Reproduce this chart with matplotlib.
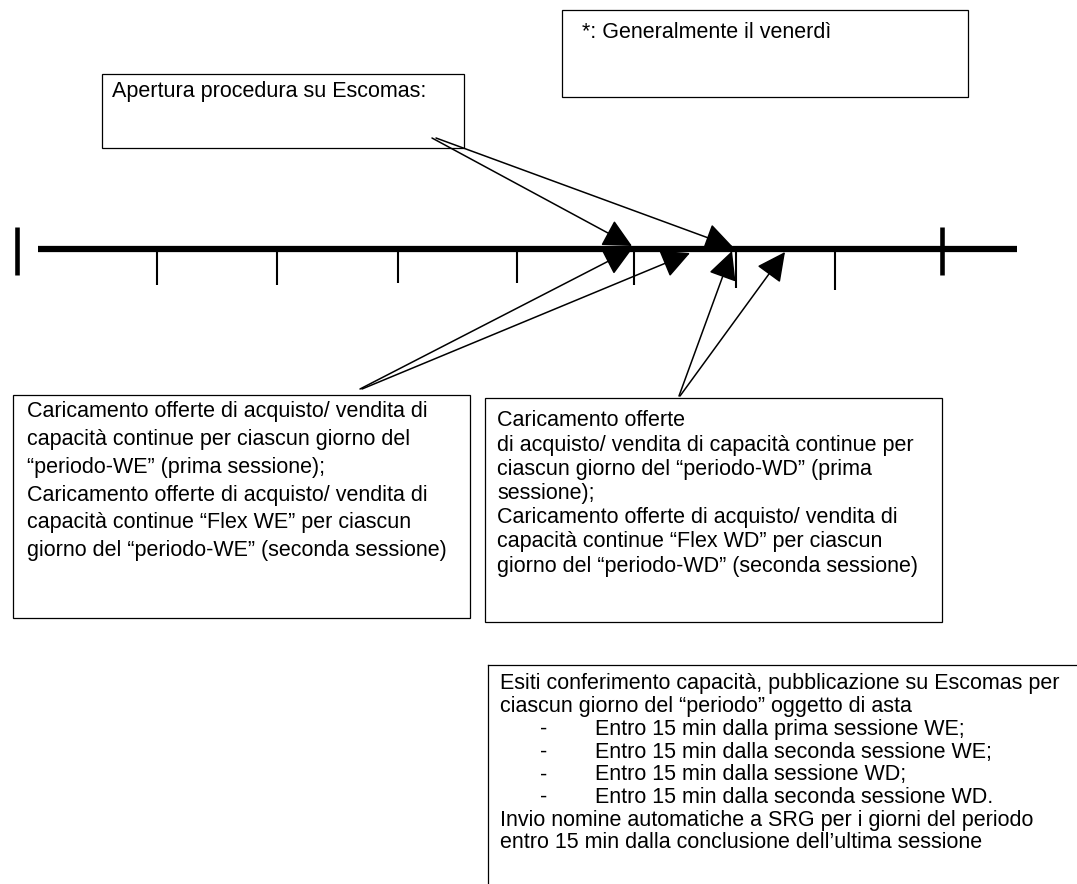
import matplotlib
matplotlib.use("Agg")
import matplotlib.pyplot as plt
from matplotlib.patches import Rectangle, FancyArrowPatch

plt.rcParams['font.family'] = ['Liberation Sans', 'DejaVu Sans']

# timeline
line_y = 249
line_x = [38, 1017]
end_bars = [17, 942]
ticks_x = [157, 277, 398, 517, 634, 736, 835]
ticks_bottom = [285, 285, 283, 283, 285, 288, 290]

# arrows: (start, tip)
arrows_top = [((432, 138), (632, 246)), ((436, 138), (733, 247))]
arrows_we = [((360, 389), (632, 249)), ((362, 389), (690, 253))]
arrows_wd = [((679, 396), (732, 251)), ((680, 396), (785, 252))]

box_apertura = "Apertura procedura su Escomas:"
box_note = "*: Generalmente il venerdì"
lines_we = [
    "Caricamento offerte di acquisto/ vendita di",
    "capacità continue per ciascun giorno del",
    "“periodo-WE” (prima sessione);",
    "Caricamento offerte di acquisto/ vendita di",
    "capacità continue “Flex WE” per ciascun",
    "giorno del “periodo-WE” (seconda sessione)",
]
lines_wd = [
    "Caricamento offerte",
    "di acquisto/ vendita di capacità continue per",
    "ciascun giorno del “periodo-WD” (prima",
    "sessione);",
    "Caricamento offerte di acquisto/ vendita di",
    "capacità continue “Flex WD” per ciascun",
    "giorno del “periodo-WD” (seconda sessione)",
]
esiti_head = [
    "Esiti conferimento capacità, pubblicazione su Escomas per",
    "ciascun giorno del “periodo” oggetto di asta",
]
esiti_items = [
    "Entro 15 min dalla prima sessione WE;",
    "Entro 15 min dalla seconda sessione WE;",
    "Entro 15 min dalla sessione WD;",
    "Entro 15 min dalla seconda sessione WD.",
]
esiti_tail = [
    "Invio nomine automatiche a SRG per i giorni del periodo",
    "entro 15 min dalla conclusione dell’ultima sessione",
]

W, H = 1077, 884
fig = plt.figure(figsize=(W / 100, H / 100), dpi=100)
ax = fig.add_axes([0, 0, 1, 1])
ax.set_xlim(0, W)
ax.set_ylim(H, 0)
ax.axis('off')

fs = 15.5

# main line and ticks
ax.plot(line_x, [line_y, line_y], color='black', lw=4.5, solid_capstyle='butt')
for bx in end_bars:
    ax.plot([bx, bx], [227, 275], color='black', lw=3.3, solid_capstyle='butt')
for tx, tb in zip(ticks_x, ticks_bottom):
    ax.plot([tx, tx], [line_y, tb], color='black', lw=1.5, solid_capstyle='butt')


def box(x0, y0, x1, y1):
    ax.add_patch(Rectangle((x0, y0), x1 - x0, y1 - y0, fill=False,
                           edgecolor='black', lw=0.9))


box(102, 74, 464, 148)
ax.text(112, 92, box_apertura, fontsize=fs, va='center', ha='left')

box(562, 10, 968, 97)
ax.text(582, 32, box_note, fontsize=fs, va='center', ha='left')

box(13, 395, 470, 618)
for i, s in enumerate(lines_we):
    ax.text(27, 412 + i * 27.7, s, fontsize=fs, va='center', ha='left')

box(485, 398, 942, 622)
for i, s in enumerate(lines_wd):
    ax.text(497, 421 + i * 24.2, s, fontsize=fs, va='center', ha='left')

# bottom box (open on right and bottom)
ax.plot([488, W], [665, 665], color='black', lw=0.9)
ax.plot([488, 488], [665, H], color='black', lw=0.9)
y = 684
for s in esiti_head:
    ax.text(500, y, s, fontsize=fs, va='center', ha='left')
    y += 22.7
for s in esiti_items:
    ax.text(540, y, "-", fontsize=fs, va='center', ha='left')
    ax.text(595, y, s, fontsize=fs, va='center', ha='left')
    y += 22.7
for s in esiti_tail:
    ax.text(500, y, s, fontsize=fs, va='center', ha='left')
    y += 22.7

for a, b in arrows_top + arrows_we + arrows_wd:
    ax.add_patch(FancyArrowPatch(a, b, arrowstyle='-|>,head_length=1.0,head_width=0.5',
                                 mutation_scale=18, color='black', lw=1.1,
                                 shrinkA=0, shrinkB=0))

fig.savefig('out.png', dpi=100)
